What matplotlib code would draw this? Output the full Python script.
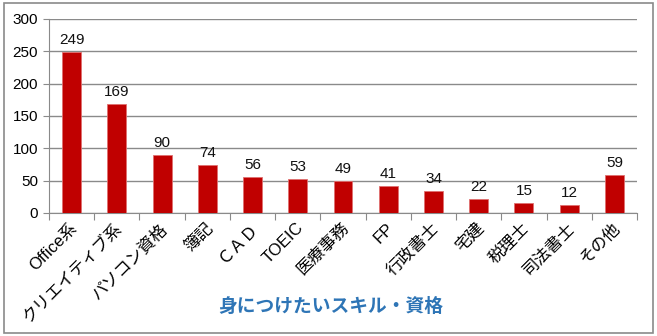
import matplotlib.pyplot as plt
from matplotlib.patches import Rectangle
from matplotlib.transforms import ScaledTranslation

plt.rcParams['font.family'] = ['Liberation Sans', 'Noto Sans CJK JP', 'DejaVu Sans']

skills = ['Office系', 'クリエイティブ系', 'パソコン資格', '簿記', 'ＣＡＤ', 'TOEIC',
          '医療事務', 'FP', '行政書士', '宅建', '税理士', '司法書士', 'その他']
counts = [249, 169, 90, 74, 56, 53, 49, 41, 34, 22, 15, 12, 59]
yticks = [0, 50, 100, 150, 200, 250, 300]

fig = plt.figure(figsize=(6.57, 3.36), dpi=100)
ax = fig.add_axes([49 / 657, 1 - 213 / 336, 588 / 657, 194 / 336])

x = range(len(skills))
bars = ax.bar(x, counts, width=0.42, color='#C00000', edgecolor='#E07070',
              linewidth=0.6, zorder=3)
for b, v in zip(bars, counts):
    ax.text(b.get_x() + b.get_width() / 2, v + 8, str(v), ha='center', va='bottom',
            fontsize=11, color='#111111')

ax.set_xlim(-0.5, len(skills) - 0.5)
ax.set_ylim(0, 300)
ax.set_yticks(yticks)
ax.yaxis.grid(True, color='#8a8a8a', linewidth=1, zorder=0)
ax.tick_params(axis='y', labelsize=11, length=4, color='#8a8a8a', pad=4)

# category ticks sit between bars
ax.set_xticks([i - 0.5 for i in range(len(skills) + 1)], minor=False)
ax.set_xticklabels([])
ax.tick_params(axis='x', length=5, color='#8a8a8a')
ax.set_xticks(list(x), minor=True)
labels = ax.set_xticklabels(skills, minor=True, rotation=45, ha='right', va='center',
                            rotation_mode='anchor', fontsize=12)
ax.tick_params(axis='x', which='minor', length=0, pad=9)
shift = ScaledTranslation(3 / 100, 0, fig.dpi_scale_trans)
for lab in labels:
    lab.set_transform(lab.get_transform() + shift)

for side in ['top', 'right']:
    ax.spines[side].set_visible(False)
for side in ['left', 'bottom']:
    ax.spines[side].set_color('#8a8a8a')

fig.text(331 / 657, 1 - 307 / 336, '身につけたいスキル・資格', ha='center', va='center',
         fontsize=13.5, fontweight='bold', color='#2E75B6')

fig.patches.append(Rectangle((4 / 657, 3 / 336), 649 / 657, 330 / 336,
                             transform=fig.transFigure, fill=False,
                             edgecolor='#8a8a8a', linewidth=1.2))

fig.savefig('out.png', dpi=100)
